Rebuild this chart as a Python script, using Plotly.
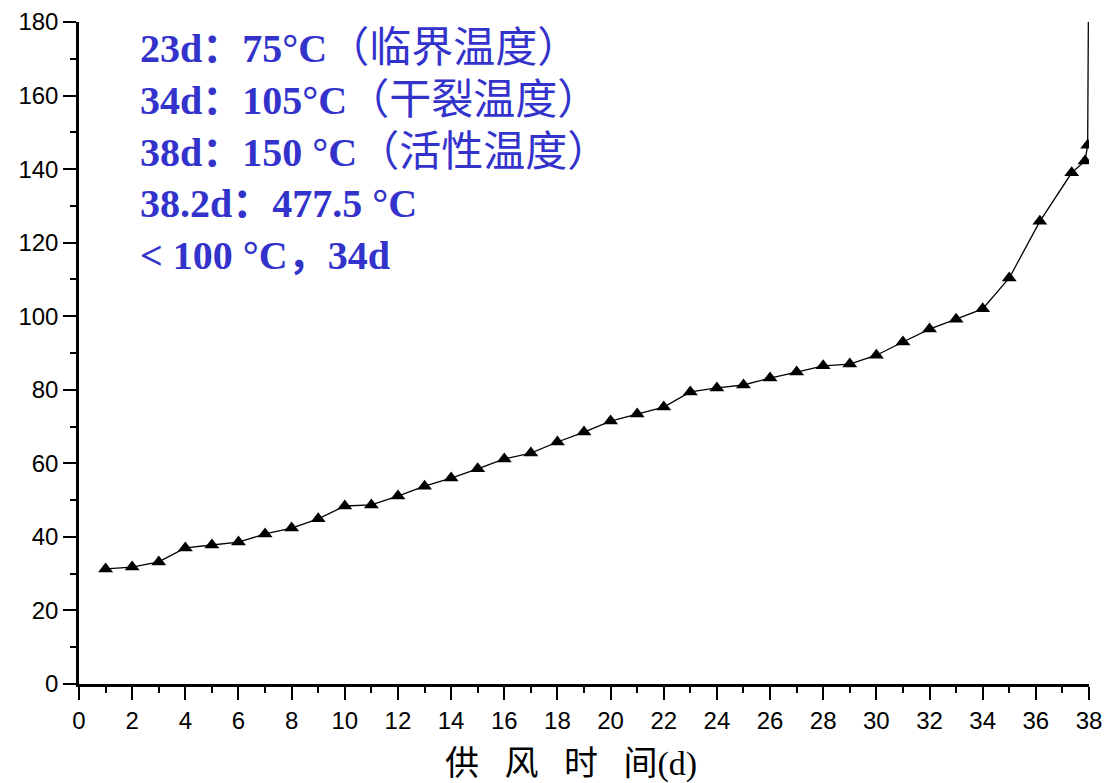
import plotly.graph_objects as go

days = [1, 2, 3, 4, 5, 6, 7, 8, 9, 10, 11, 12, 13, 14, 15, 16, 17, 18, 19, 20,
        21, 22, 23, 24, 25, 26, 27, 28, 29, 30, 31, 32, 33, 34, 35, 36.15, 37.35,
        37.85, 37.95, 38.2]
temps = [31.3, 31.8, 33.2, 37.0, 37.8, 38.6, 40.8, 42.4, 44.9, 48.4, 48.7, 51.1,
         53.8, 56.0, 58.5, 61.2, 62.8, 65.8, 68.5, 71.5, 73.4, 75.3, 79.4, 80.5,
         81.3, 83.2, 84.8, 86.5, 87.0, 89.4, 93.0, 96.5, 99.2, 102.0, 110.4, 125.8,
         139.0, 142.2, 146.5, 477.5]

# (bold latin part, CJK part) per note line
note_lines = [
    ("23d：75°C", "（临界温度）"),
    ("34d：105°C", "（干裂温度）"),
    ("38d：150 °C", "（活性温度）"),
    ("38.2d：477.5 °C", ""),
    ("< 100 °C，34d", ""),
]
x_title = "供\u2002 风\u2002 时\u2002 间(d)"

fig = go.Figure()
fig.add_trace(go.Scatter(
    x=days, y=temps, mode="lines+markers",
    line=dict(color="black", width=1.3),
    marker=dict(symbol="triangle-up", size=13, color="black"),
    showlegend=False,
))

note_font = "'Liberation Serif', 'Times New Roman', 'Noto Sans CJK SC', serif"
for i, (latin, cjk) in enumerate(note_lines):
    cjk_html = f"<span style='font-size:42px'>{cjk}</span>" if cjk else ""
    fig.add_annotation(
        xref="paper", yref="paper", x=0.058, y=0.961 - i * 0.0785,
        xanchor="left", yanchor="middle", showarrow=False,
        text=f"<b>{latin}</b>{cjk_html}",
        font=dict(family=note_font, size=40, color="#3333cc"),
    )

fig.add_annotation(
    xref="paper", yref="paper", x=0.487, y=-0.121,
    xanchor="center", yanchor="middle", showarrow=False,
    text=x_title,
    font=dict(family="'Liberation Serif', 'Noto Sans CJK SC', serif", size=34, color="black"),
)

fig.update_layout(
    width=1106, height=783,
    margin=dict(l=79, r=17, t=22, b=99),
    paper_bgcolor="white", plot_bgcolor="white",
    font=dict(family="'Liberation Sans', Arial, sans-serif", size=24, color="black"),
    xaxis=dict(
        range=[0, 38], tickmode="linear", tick0=0, dtick=2, automargin=False,
        showline=True, linecolor="black", linewidth=2.5,
        ticks="outside", ticklen=13, tickwidth=2, tickcolor="black",
        minor=dict(dtick=1, ticks="outside", ticklen=6, tickwidth=2, tickcolor="black"),
        showgrid=False, zeroline=False,
        tickfont=dict(size=24),
    ),
    yaxis=dict(
        range=[0, 180], tickmode="linear", tick0=0, dtick=20, automargin=False,
        showline=True, linecolor="black", linewidth=2.5,
        ticks="outside", ticklen=13, tickwidth=2, tickcolor="black",
        minor=dict(dtick=10, ticks="outside", ticklen=6, tickwidth=2, tickcolor="black"),
        showgrid=False, zeroline=False,
        tickfont=dict(size=24),
    ),
)

fig.write_html("out.html")
